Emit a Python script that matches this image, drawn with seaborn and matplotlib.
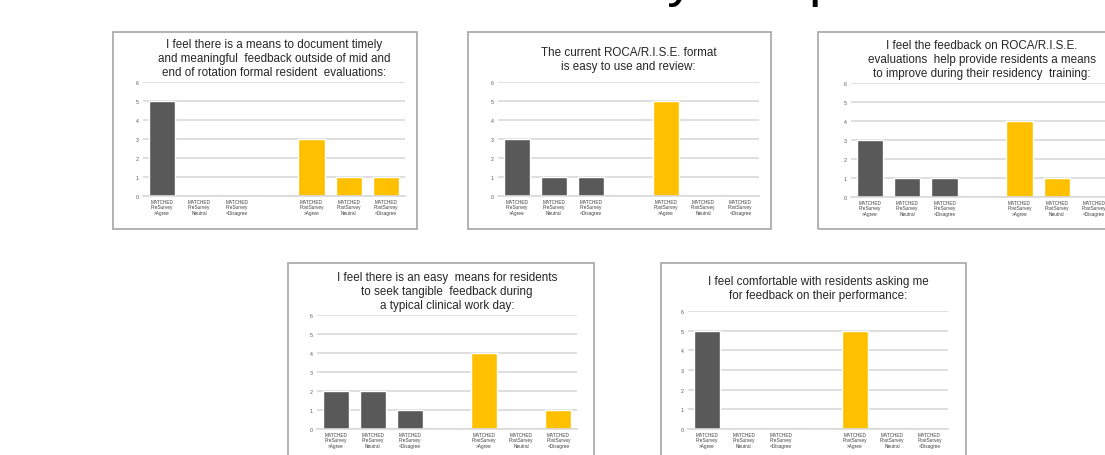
import matplotlib.pyplot as plt
import matplotlib.patches as mpatches
import pandas as pd
import seaborn as sns

# categories along x (blank slot separates pre and post survey)
categories = ['MATCHED\nPreSurvey\n>Agree', 'MATCHED\nPreSurvey\nNeutral', 'MATCHED\nPreSurvey\n<Disagree', '',
              'MATCHED\nPostSurvey\n>Agree', 'MATCHED\nPostSurvey\nNeutral', 'MATCHED\nPostSurvey\n<Disagree']

titles = [
    'I feel there is a means to document timely\nand meaningful  feedback outside of mid and\nend of rotation formal resident  evaluations:',
    'The current ROCA/R.I.S.E. format\nis easy to use and review:',
    'I feel the feedback on ROCA/R.I.S.E.\nevaluations  help provide residents a means\nto improve during their residency  training:',
    'I feel there is an easy  means for residents\nto seek tangible  feedback during\na typical clinical work day:',
    'I feel comfortable with residents asking me\nfor feedback on their performance:',
]

pre_counts = [[5, 0, 0], [3, 1, 1], [3, 1, 1], [2, 2, 1], [5, 0, 0]]
post_counts = [[3, 1, 1], [5, 0, 0], [4, 1, 0], [4, 0, 1], [5, 0, 0]]

suptitle = 'Matched Survey Responses'

PRE_COLOR = '#595959'
POST_COLOR = '#FFC000'

W, H = 1105, 456

# pixel layout: plot areas and surrounding boxes (x0, y0, x1, y1 from top-left)
plot_areas = [(143, 83, 405, 197), (498, 83, 759, 197), (851, 84, 1113, 198),
              (317, 316, 577, 430), (688, 312, 948, 430)]
boxes = [(113, 33, 417, 230), (468, 33, 771, 230), (818, 33, 1121, 230),
         (288, 264, 594, 470), (661, 264, 966, 470)]
title_pads = [5, 9.5, 5, 5, 9.5]


def frac(x0, y0, x1, y1):
    return [x0 / W, 1 - y1 / H, (x1 - x0) / W, (y1 - y0) / H]


sns.set_theme(style="white")
plt.rcParams['font.family'] = ['Liberation Sans', 'DejaVu Sans']

fig = plt.figure(figsize=(W / 100, H / 100), dpi=100)

palette = {c: (PRE_COLOR if 'Pre' in c else POST_COLOR) for c in categories}

for i in range(len(titles)):
    bx = frac(*boxes[i])
    fig.patches.append(mpatches.Rectangle((bx[0], bx[1]), bx[2], bx[3], transform=fig.transFigure,
                                          fill=False, edgecolor='#A6A6A6', linewidth=1.2, zorder=0))

    counts = pre_counts[i] + [0] + post_counts[i]
    df = pd.DataFrame({'category': categories, 'count': counts})

    ax = fig.add_axes(frac(*plot_areas[i]))
    sns.barplot(data=df, x='category', y='count', hue='category', order=categories,
                palette=palette, legend=False, width=0.7, saturation=1, ax=ax)
    ax.set_ylim(0, 6)
    ax.set_yticks(range(7))
    ax.yaxis.grid(True, color='#D9D9D9', linewidth=1.2)
    ax.set_axisbelow(True)
    for s in ['top', 'right', 'left']:
        ax.spines[s].set_visible(False)
    ax.spines['bottom'].set_color('#D9D9D9')
    ax.spines['bottom'].set_linewidth(1.2)
    ax.tick_params(axis='both', length=0)
    ax.tick_params(axis='y', labelsize=3.8, labelcolor='#595959', pad=3)
    ax.tick_params(axis='x', labelsize=3.4, labelcolor='#404040', pad=2)
    for lbl in ax.get_xticklabels():
        lbl.set_linespacing(1.1)
    ax.set_xlabel('')
    ax.set_ylabel('')
    ax.set_title(titles[i], fontsize=8.4, color='#262626', pad=title_pads[i], linespacing=1.2)

# slide heading, mostly cut off at the top edge like the reference
fig.text(294 / W, 1 + 5 / H, suptitle, ha='left', va='baseline', fontsize=40, color='black')

plt.savefig('out.png', dpi=100)
